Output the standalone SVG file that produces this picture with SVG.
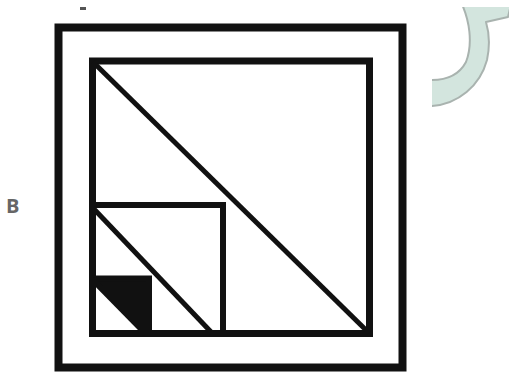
<svg xmlns="http://www.w3.org/2000/svg" width="509" height="377" viewBox="0 0 509 377">
<style>
.frame{fill:none;stroke:#111;stroke-linecap:square}
.ln{stroke:#111;fill:none}
.lbl{font-family:"Open Sans","Liberation Sans",sans-serif;font-weight:bold;font-size:20px;fill:#666}
</style>
<defs>
<clipPath id="arcClip"><rect x="432" y="7" width="77" height="370"/></clipPath>
</defs>
<rect width="509" height="377" fill="#fff"/>
<g id="mark"><rect x="80" y="7" width="6" height="3" fill="#555"/></g>
<g id="label-B"><text class="lbl" x="6" y="213">B</text></g>
<g id="arrow-arc" clip-path="url(#arcClip)">
<path d="M425,106 L432,106 C458,104 480,86 487,60 C490,46 489,32 486,22 L508,17 L512,0 L460,0 C470,20 473,44 466,62 C459,75 447,80 432,80 L425,80 Z" fill="#d3e5de" stroke="#a9b3af" stroke-width="2" stroke-linejoin="round"/>
</g>
<g id="outer-square"><rect class="frame" x="58.5" y="27.5" width="344" height="340" stroke-width="8"/></g>
<g id="inner-square"><rect class="frame" x="92.5" y="61" width="277" height="272.5" stroke-width="7"/></g>
<g id="small-square">
<polygon points="92,278 149,278 149,334" fill="#111"/>
<line class="ln" x1="92" y1="278.5" x2="152" y2="278.5" stroke-width="6"/>
<line class="ln" x1="149" y1="276" x2="149" y2="334" stroke-width="6"/>
<line class="ln" x1="92" y1="279" x2="146" y2="334" stroke-width="6"/>
</g>
<g id="medium-square">
<line class="ln" x1="92" y1="205" x2="226" y2="205" stroke-width="6"/>
<line class="ln" x1="223" y1="202" x2="223" y2="334" stroke-width="6"/>
</g>
<g id="connectors">
<line class="ln" x1="93" y1="62" x2="369" y2="333" stroke-width="5"/>
<line class="ln" x1="93" y1="208" x2="212" y2="333" stroke-width="5"/>
</g>
</svg>
